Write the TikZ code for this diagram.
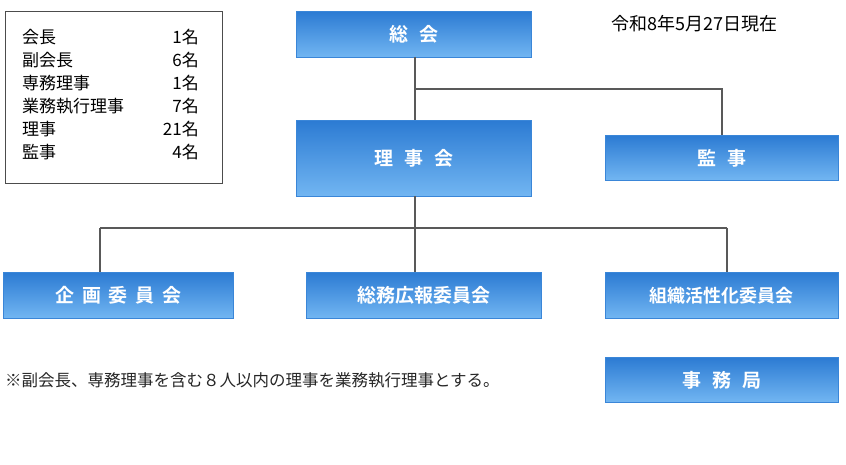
\documentclass[tikz,border=0pt]{standalone}
\usepackage{fontspec}
\setmainfont{Noto Sans CJK JP}
\newfontfamily\cjkb{Noto Sans CJK JP Bold}
\definecolor{btop}{HTML}{2C7BD3}
\definecolor{bbot}{HTML}{72B6F2}
\definecolor{bline}{HTML}{3A86D8}
\begin{document}
\begin{tikzpicture}[x=1pt,y=-1pt,
  box/.style={draw=bline,line width=0.8pt,top color=btop,bottom color=bbot,text=white,font=\cjkb\fontsize{19}{19}\selectfont,inner sep=0pt,anchor=north west},
  ln/.style={draw=black!65,line width=1.3pt},
  leg/.style={font=\fontsize{17}{17}\selectfont,inner sep=0pt}]
\useasboundingbox (0,0) rectangle (846,465);
\node[box,minimum width=235,minimum height=46] (sokai) at (296,11) {総\hspace{0.6em}会};
\node[box,minimum width=235,minimum height=76] (rijikai) at (296,120) {理\hspace{0.6em}事\hspace{0.6em}会};
\node[box,minimum width=233,minimum height=45] (kanji) at (605,135) {監\hspace{0.6em}事};
\node[box,minimum width=230,minimum height=46] (kikaku) at (3,272) {企\hspace{0.4em}画\hspace{0.4em}委\hspace{0.4em}員\hspace{0.4em}会};
\node[box,minimum width=235,minimum height=46] (somu) at (306,272) {総務広報委員会};
\node[box,minimum width=233,minimum height=46] (soshiki) at (605,272) {\fontsize{18}{18}\selectfont 組織活性化委員会};
\node[box,minimum width=233,minimum height=45] (jimu) at (605,357) {事\hspace{0.6em}務\hspace{0.6em}局};
\coordinate (j1) at (415,89);
\coordinate (j2) at (415,228);
\draw[ln] (415,57) -- (415,120);
\draw[ln] (j1) -| (kanji.north);
\draw[ln] (415,196) -- (j2);
\draw[ln] (100,228) -- (727,228);
\draw[ln] (100,228) -- (100,272);
\draw[ln] (j2) -- (415,272);
\draw[ln] (727,228) -- (727,272);
\node[draw=black!70,line width=0.8pt,minimum width=217,minimum height=172,anchor=north west,inner sep=0pt] (legend) at (5,11) {};
\foreach \n/\v [count=\i] in {会長/1名,副会長/6名,専務理事/1名,業務執行理事/7名,理事/21名,監事/4名}{
  \node[leg,anchor=west] (l\i) at (22,{14+23*\i}) {\n};
  \node[leg,anchor=east] (r\i) at (199,{14+23*\i}) {\v};
}
\node[font=\fontsize{18}{18}\selectfont,anchor=north west,inner sep=0pt] (date) at (611,15) {令和8年5月27日現在};
\node[font=\fontsize{16.5}{16.5}\selectfont,anchor=west,inner sep=0pt,text=black!85] (note) at (5,380) {※副会長、専務理事を含む８人以内の理事を業務執行理事とする。};
\end{tikzpicture}
\end{document}
